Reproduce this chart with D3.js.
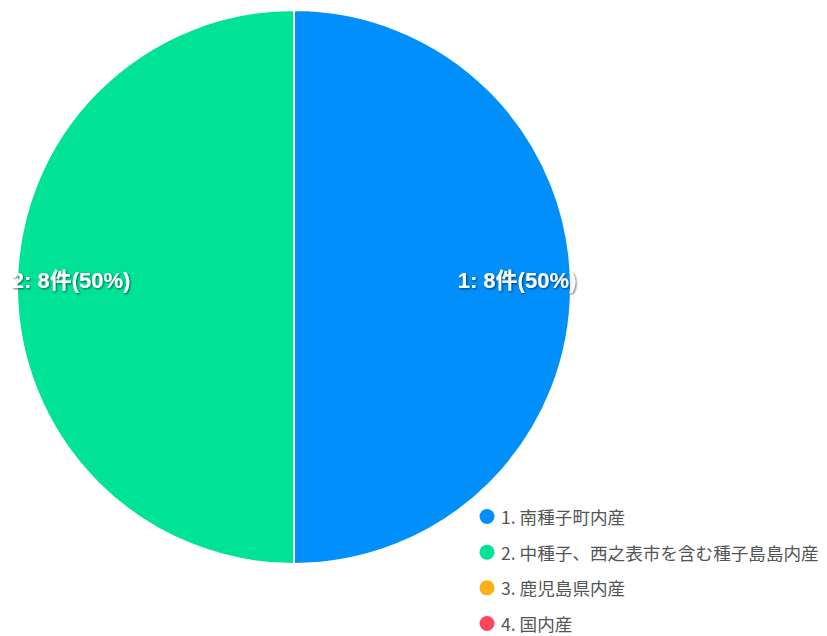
<!DOCTYPE html>
<html><head><meta charset="utf-8">
<script src="https://cdn.jsdelivr.net/npm/d3@7"></script>
<style>
html,body{margin:0;padding:0;background:#fff;}
svg{display:block;}
</style></head>
<body>
<svg id="chart" width="827" height="636"></svg>
<script>
const categories = ["1. 南種子町内産", "2. 中種子、西之表市を含む種子島島内産", "3. 鹿児島県内産", "4. 国内産"];
const labelIds = ["1", "2", "3", "4"];
const values = [8, 8, 0, 0];
const colors = ["#008FFB", "#00E396", "#FEB019", "#FF4560"];
const unit = "件";

const svg = d3.select("#chart");
const cx = 294, cy = 287, r = 277;
const font = "'Noto Sans CJK JP', 'Noto Sans', sans-serif";
const labelFont = "'Liberation Sans', Arial, 'Noto Sans CJK JP', sans-serif";

const defs = svg.append("defs");
const f = defs.append("filter").attr("id","ds").attr("x","-20%").attr("y","-50%").attr("width","140%").attr("height","200%");
f.append("feDropShadow").attr("dx",1).attr("dy",1).attr("stdDeviation",1.2).attr("flood-color","#000").attr("flood-opacity",0.6);

const total = d3.sum(values);
const pie = d3.pie().sort(null).value(d => d.v);
const data = values.map((v,i)=>({v, i}));
const arcs = pie(data);
const arc = d3.arc().innerRadius(0).outerRadius(r);
const labelArc = d3.arc().innerRadius(r*0.805).outerRadius(r*0.805);

const g = svg.append("g").attr("transform",`translate(${cx},${cy})`);
g.selectAll("path").data(arcs.filter(a=>a.data.v>0)).join("path")
  .attr("d", arc)
  .attr("fill", d=>colors[d.data.i])
  .attr("stroke","#fff").attr("stroke-width",2);

g.selectAll("text.lbl").data(arcs.filter(a=>a.data.v>0)).join("text")
  .attr("class","lbl")
  .attr("transform", d=>{const c = labelArc.centroid(d); return `translate(${c[0]},${c[1]-7})`;})
  .attr("text-anchor","middle").attr("dominant-baseline","central")
  .attr("font-family", labelFont).attr("font-weight","bold").attr("font-size",22)
  .attr("fill","#fff").attr("filter","url(#ds)")
  .text(d=>`${labelIds[d.data.i]}: ${d.data.v}${unit}(${Math.round(d.data.v/total*100)}%)`);

const legend = svg.append("g");
const rowY = d3.scaleLinear().domain([0,3]).range([516.5, 623.5]);
const items = legend.selectAll("g").data(categories).join("g")
  .attr("transform",(d,i)=>`translate(487,${rowY(i)})`);
items.append("circle").attr("r",7.5).attr("fill",(d,i)=>colors[i]);
items.append("text").attr("x",14).attr("dominant-baseline","central")
  .attr("font-family", font).attr("font-size",17.6).attr("fill","#555")
  .text(d=>d);
</script>
</body></html>
